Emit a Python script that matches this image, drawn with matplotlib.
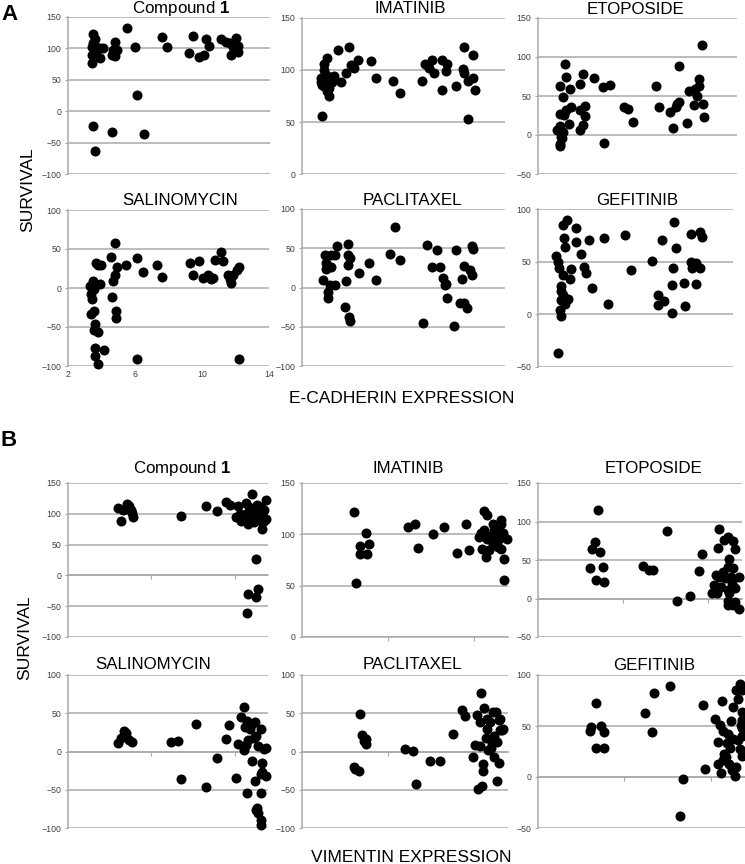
import numpy as np
import matplotlib.pyplot as plt

plt.rcParams['font.family'] = ['Liberation Sans', 'DejaVu Sans']
plt.rcParams['mathtext.fontset'] = 'custom'
plt.rcParams['mathtext.rm'] = 'Liberation Sans'
plt.rcParams['mathtext.bf'] = 'Liberation Sans:bold'

# ---------------- panel A : survival vs E-cadherin expression ----------------
cad_cpd1_x = [3.4, 3.5, 3.6, 3.7, 3.5, 3.8, 3.9, 4.1, 3.9, 3.6, 3.4, 3.4,
              4.6, 4.8, 4.7, 4.9, 4.8, 5.5, 6.0, 6.1, 3.5, 4.6, 6.5, 3.6,
              7.6, 7.9, 9.2, 9.4, 9.8, 10.1, 10.2, 10.4,
              11.1, 11.4, 11.7, 12.0, 12.1, 12.1, 11.8, 11.6]
cad_cpd1_y = [103, 123, 115, 98, 108, 100, 100, 100, 84, 92, 90, 77,
              90, 110, 97, 98, 88, 132, 103, 25, -23, -33, -36, -63,
              118, 103, 92, 119, 86, 89, 115, 104,
              115, 110, 90, 116, 104, 95, 103, 108]

cad_imat_x = [3.2, 3.5, 3.3, 3.1, 3.6, 4.1, 4.8, 4.3, 4.6, 4.9, 5.1, 5.3,
              6.1, 6.4, 7.4, 7.8, 9.1, 9.3, 9.7, 9.5, 9.8, 10.3, 10.6, 10.5,
              10.3, 11.1, 11.6, 11.5, 11.6, 12.1, 12.1, 11.8, 12.2, 11.8,
              3.1, 3.3, 3.4, 3.5, 3.6, 3.7, 3.8, 3.5, 3.3, 3.9, 3.2]
cad_imat_y = [56, 112, 106, 88, 75, 119, 122, 88, 97, 105, 102, 110,
              109, 92, 89, 78, 89, 106, 110, 102, 97, 110, 106, 99,
              81, 85, 122, 101, 97, 114, 92, 89, 81, 53,
              92, 85, 95, 90, 83, 93, 88, 80, 100, 94, 86]

cad_etop_x = [3.65, 3.31, 3.67, 3.92, 3.51, 3.31, 3.55, 3.71, 4.02, 3.15,
              3.31, 3.41, 3.51, 3.31, 3.35, 3.47, 3.88, 4.52, 4.72, 4.52,
              4.82, 4.82, 4.72, 4.56, 5.37, 5.93, 6.34, 5.97, 7.18, 7.45,
              7.75, 9.12, 9.32, 9.93, 10.13, 10.37, 10.53, 10.33, 10.53, 10.98,
              11.08, 11.38, 11.48, 11.68, 11.68, 11.58, 11.88, 11.94, 12.02]
cad_etop_y = [91, 63, 74, 59, 49, 27, 26, 32, 36, 7,
              12, -2, 4, -11, -14, -4, 14, 66, 78, 32,
              37, 24, 13, 7, 73, 61, 64, -10, 36, 33,
              17, 63, 36, 30, 9, 40, 42, 36, 89, 15,
              57, 39, 59, 63, 72, 50, 115, 40, 23]

cad_sali_x = [4.83, 4.59, 6.1, 5.49, 4.95, 3.98, 3.68, 3.78, 3.94, 4.79,
              4.69, 6.5, 7.31, 7.62, 9.29, 9.84, 9.47, 10.04, 10.34, 10.55,
              10.75, 11.15, 11.25, 10.65, 11.56, 11.66, 11.76, 11.86, 12.06, 12.2,
              3.33, 3.47, 3.37, 3.41, 3.58, 3.37, 3.64, 3.58, 3.78, 3.6,
              3.6, 3.78, 4.14, 4.63, 4.89, 4.89, 6.1, 12.18, 3.53]
cad_sali_y = [58, 40, 39, 30, 27, 30, 32, 29, 5, 17,
              9, 20, 30, 14, 32, 34, 17, 13, 17, 12,
              36, 46, 35, 13, 17, 11, 7, 17, 23, 27,
              2, 9, -8, -14, -29, -33, -46, -54, -56, -77,
              -87, -97, -79, -12, -29, -38, -91, -91, -1]

cad_pacl_x = [3.26, 3.36, 3.42, 3.42, 3.56, 3.56, 3.66, 3.7, 3.95, 3.7,
              3.95, 4.05, 4.74, 4.74, 4.84, 4.74, 4.6, 4.54, 4.8, 4.84,
              5.39, 5.98, 6.37, 7.5, 7.2, 7.79, 9.17, 9.37, 9.67, 10.0,
              10.16, 10.35, 10.45, 10.5, 10.59, 10.99, 11.1, 11.44, 11.57, 11.34,
              11.57, 11.73, 11.93, 12.03, 12.03, 12.08]
cad_pacl_y = [9, 42, 31, 23, -6, -14, 3, 41, 41, 26,
              3, 53, 56, 41, 37, 29, 8, -25, -37, -43,
              19, 31, 9, 77, 43, 35, -45, 54, 26, 48,
              26, 12, 3, 4, -13, -49, 48, 11, 28, -20,
              -20, -26, 22, 16, 53, 49]

cad_gefi_x = [3.13, 3.23, 3.29, 3.54, 3.8, 4.36, 3.58, 3.64, 4.32, 4.05,
              3.95, 3.54, 4.67, 4.81, 4.93, 5.14, 5.34, 3.44, 3.44, 3.54,
              3.44, 3.85, 3.64, 3.33, 3.44, 3.23, 6.06, 6.33, 7.35, 7.7,
              9.04, 9.61, 9.41, 9.41, 9.73, 10.39, 10.47, 10.31, 10.23, 10.23,
              10.96, 11.02, 11.43, 11.43, 11.5, 11.7, 11.7, 11.99, 12.09, 11.99]
cad_gefi_y = [55, 50, 44, 85, 90, 82, 72, 64, 69, 43,
              34, 37, 57, 45, 39, 71, 25, 27, 22, 18,
              14, 15, 10, 4, -2, -37, 72, 10, 75, 42,
              51, 71, 18, 9, 13, 88, 63, 44, 28, 1,
              30, 8, 76, 50, 44, 49, 29, 78, 73, 44]

# ---------------- panel B : survival vs vimentin expression ----------------
vim_cpd1_x = [0.6, 0.63, 0.66, 0.71, 0.73, 0.75, 0.77, 0.78, 0.69, 1.35,
              1.65, 1.79, 1.9, 1.94, 2.04, 2.06, 2.14, 2.21, 2.27, 2.38,
              2.33, 2.25, 2.16, 2.28, 2.26, 2.15,
              2.01, 2.07, 2.11, 2.16, 2.19, 2.23, 2.29, 2.33, 2.35, 2.31,
              2.37, 2.23, 2.13, 2.18, 2.27, 2.17, 2.31, 2.35]
vim_cpd1_y = [109, 89, 106, 116, 112, 106, 101, 95, 108, 96,
              112, 104, 119, 114, 112, 100, 117, 132, 114, 122,
              76, 26, -31, -22, -35, -61,
              95, 89, 94, 84, 90, 87, 94, 100, 106, 88,
              92, 97, 100, 103, 103, 111, 111, 89]

vim_imat_x = [0.61, 0.63, 0.67, 0.67, 0.74, 0.78, 0.76, 1.24, 1.32, 1.35,
              1.53, 1.65, 1.8, 1.91, 1.94, 2.12, 2.16, 2.22, 2.32, 2.32,
              2.14, 2.35, 2.35, 2.06, 2.1, 2.18,
              2.12, 2.2, 2.25, 2.3, 2.34, 2.39, 2.28, 2.22, 2.16, 2.32,
              2.24, 2.08, 2.27]
vim_imat_y = [122, 53, 89, 81, 101, 91, 81, 107, 110, 87,
              100, 107, 82, 110, 85, 123, 119, 110, 114, 110,
              78, 76, 56, 97, 86, 85,
              104, 98, 101, 95, 101, 95, 88, 91, 95, 86,
              104, 101, 106]

vim_etop_x = [0.71, 0.67, 0.63, 0.73, 0.61, 0.77, 0.68, 0.78, 1.23, 1.3,
              1.35, 1.52, 1.64, 1.79, 1.93, 1.89, 2.13, 2.12, 2.19, 2.23,
              2.29, 2.32, 2.25, 2.05, 2.11, 2.07, 2.09, 2.13, 2.15, 2.18,
              2.2, 2.24, 2.29, 2.36, 2.27, 2.32, 2.25, 2.24, 2.23, 2.29,
              2.36, 2.32, 2.24, 2.28]
vim_etop_y = [115, 74, 64, 60, 39, 41, 24, 22, 42, 37,
              37, 88, -3, 3, 58, 36, 90, 65, 76, 80,
              75, 64, 51, 7, 7, 17, 30, 28, 15, 35,
              26, 41, 39, 28, 28, 13, 7, -3, -9, -9,
              -13, -4, 11, 20]

vim_sali_x = [0.6, 0.64, 0.67, 0.7, 0.73, 0.77, 0.69, 1.24, 1.32, 1.35,
              1.53, 1.65, 1.79, 1.9, 1.93, 2.02, 2.04, 2.08, 2.11, 2.12,
              2.15, 2.13, 2.16, 2.11, 2.15, 2.18, 2.21, 2.24, 2.23, 2.26,
              2.28, 2.31, 2.21, 2.24, 2.31, 2.33, 2.35, 2.37, 2.32, 2.37,
              2.33, 2.25, 2.28, 2.31, 2.32, 2.27]
vim_sali_y = [11, 17, 27, 24, 15, 12, 20, 12, 14, -36,
              36, -46, -9, 16, 34, -34, 10, 45, 58, 32,
              40, 9, 15, 2, -54, 30, 36, 39, 17, 20,
              7, 30, -12, -39, -54, -15, 3, 4, -30, -32,
              -27, -77, -80, -89, -96, -74]

vim_pacl_x = [0.67, 0.7, 0.75, 0.74, 0.72, 0.6, 0.66, 0.62, 1.2, 1.29,
              1.33, 1.49, 1.61, 1.76, 1.86, 1.9, 2.09, 2.12, 2.04, 2.07,
              2.01, 1.99, 2.07, 2.11, 2.11, 2.05, 2.1, 2.14, 2.16, 2.19,
              2.23, 2.26, 2.29, 2.31, 2.31, 2.27, 2.2, 2.24, 2.3, 2.27,
              2.33, 2.34, 2.24, 2.21, 2.17, 2.16]
vim_pacl_y = [49, 22, 16, 10, 14, -20, -26, -23, 3, 1,
              -42, -13, -13, 23, 54, 47, 77, 57, 48, 39,
              9, -7, 7, -16, -25, -49, -45, 17, 30, 38,
              51, 52, 41, 28, 42, 12, 4, -7, -15, -39,
              28, 29, 20, 11, 2, 42]

vim_gefi_x = [0.67, 0.61, 0.6, 0.73, 0.77, 0.67, 0.77, 1.24, 1.35, 1.32,
              1.53, 1.68, 1.94, 1.65, 1.91, 2.13, 2.05, 2.09, 2.09, 2.12,
              2.15, 2.11, 2.18, 2.2, 2.22, 2.24, 2.26, 2.26, 2.28, 2.3,
              2.32, 2.3, 2.34, 2.36, 2.35, 2.36, 2.32, 2.34, 2.36, 2.37,
              2.36, 2.37, 2.23, 2.19, 2.16, 2.14, 2.25]
vim_gefi_y = [73, 49, 45, 50, 44, 28, 28, 63, 82, 44,
              89, -2, 8, -38, 71, 75, 57, 34, 13, 4,
              45, 51, 20, 42, 13, 55, 69, 37, 1, 10,
              76, 85, 91, 85, 51, 48, 36, 27, 21, 64,
              40, 56, 28, 33, 23, 17, 7]

# layout: (left, top, right, bottom) in pixels, title centre x / baseline y
panels = [
    ((68, 17, 270, 174), cad_cpd1_x, cad_cpd1_y, r'Compound $\mathbf{1}$', (181, 13.5), (-100, 150), (2, 14), False, False),
    ((302, 18, 505, 174), cad_imat_x, cad_imat_y, 'IMATINIB', (410, 13), (0, 150), (2, 14), False, False),
    ((538, 18, 737, 174), cad_etop_x, cad_etop_y, 'ETOPOSIDE', (636, 14), (-50, 150), (2, 14), False, False),
    ((68, 210, 269, 366), cad_sali_x, cad_sali_y, 'SALINOMYCIN', (180, 205), (-100, 100), (2, 14), False, True),
    ((302, 209, 505, 366), cad_pacl_x, cad_pacl_y, 'PACLITAXEL', (412, 205), (-100, 100), (2, 14), False, False),
    ((538, 209, 733, 367), cad_gefi_x, cad_gefi_y, 'GEFITINIB', (637, 205), (-50, 100), (2, 14), False, False),
    ((68, 483, 268, 637), vim_cpd1_x, vim_cpd1_y, r'Compound $\mathbf{1}$', (182, 473), (-100, 150), (0, 2.4), True, False),
    ((302, 483, 508, 637), vim_imat_x, vim_imat_y, 'IMATINIB', (408, 473), (0, 150), (0, 2.4), True, False),
    ((538, 483, 742, 637), vim_etop_x, vim_etop_y, 'ETOPOSIDE', (653, 473), (-50, 150), (0, 2.4), True, False),
    ((68, 675, 268, 828), vim_sali_x, vim_sali_y, 'SALINOMYCIN', (153, 669), (-100, 100), (0, 2.4), True, False),
    ((302, 675, 508, 828), vim_pacl_x, vim_pacl_y, 'PACLITAXEL', (412, 669), (-100, 100), (0, 2.4), True, False),
    ((538, 675, 745, 828), vim_gefi_x, vim_gefi_y, 'GEFITINIB', (654, 670), (-50, 100), (0, 2.4), True, False),
]

W, H = 745, 864
grey = '#a9a9a9'
fig = plt.figure(figsize=(W / 100, H / 100), dpi=100)

for box, xs, ys, title, tpos, ylim, xlim, vim, xlab in panels:
    l, t, r, b = box
    ax = fig.add_axes([l / W, 1 - b / H, (r - l) / W, (b - t) / H])
    ax.scatter(xs, ys, s=52, c='black', linewidths=0, zorder=3, clip_on=False)
    ax.set_xlim(*xlim)
    ax.set_ylim(*ylim)
    ax.set_yticks(np.arange(ylim[0], ylim[1] + 1, 50))
    ax.yaxis.grid(True, color=grey, lw=1.1)
    ax.set_axisbelow(True)
    ax.tick_params(axis='y', length=2.5, width=0.8, color=grey, pad=2.5,
                   labelsize=6.3, labelcolor='#404040')
    for s in ['top', 'right']:
        ax.spines[s].set_visible(False)
    ax.spines['left'].set_color(grey)
    ax.spines['left'].set_linewidth(1.1)
    if vim:
        ax.spines['bottom'].set_position(('data', 0))
        ax.spines['bottom'].set_color(grey)
        ax.spines['bottom'].set_linewidth(1.1)
        ax.set_xticks([1, 2])
        ax.set_xticklabels([])
        ax.tick_params(axis='x', length=3, width=0.8, color=grey)
    else:
        ax.spines['bottom'].set_visible(False)
        if xlab:
            ax.set_xticks([2, 6, 10, 14])
            ax.tick_params(axis='x', length=0, pad=3, labelsize=6.3, labelcolor='#404040')
        else:
            ax.set_xticks([])
    fig.text(tpos[0] / W, 1 - tpos[1] / H, title, ha='center', va='baseline', fontsize=12.2)

fig.text(9 / W, 1 - 14 / H, 'A', ha='center', va='center', fontsize=16, fontweight='bold')
fig.text(9 / W, 1 - 441 / H, 'B', ha='center', va='center', fontsize=16, fontweight='bold')
fig.text(28 / W, 1 - 190 / H, 'SURVIVAL', rotation=90, ha='center', va='center', fontsize=12.6)
fig.text(25 / W, 1 - 638 / H, 'SURVIVAL', rotation=90, ha='center', va='center', fontsize=12.6)
fig.text(402 / W, 1 - 403 / H, 'E-CADHERIN EXPRESSION', ha='center', va='baseline', fontsize=12.5)
fig.text(411 / W, 1 - 862 / H, 'VIMENTIN EXPRESSION', ha='center', va='baseline', fontsize=12.5)

fig.savefig('out.png', dpi=100)
